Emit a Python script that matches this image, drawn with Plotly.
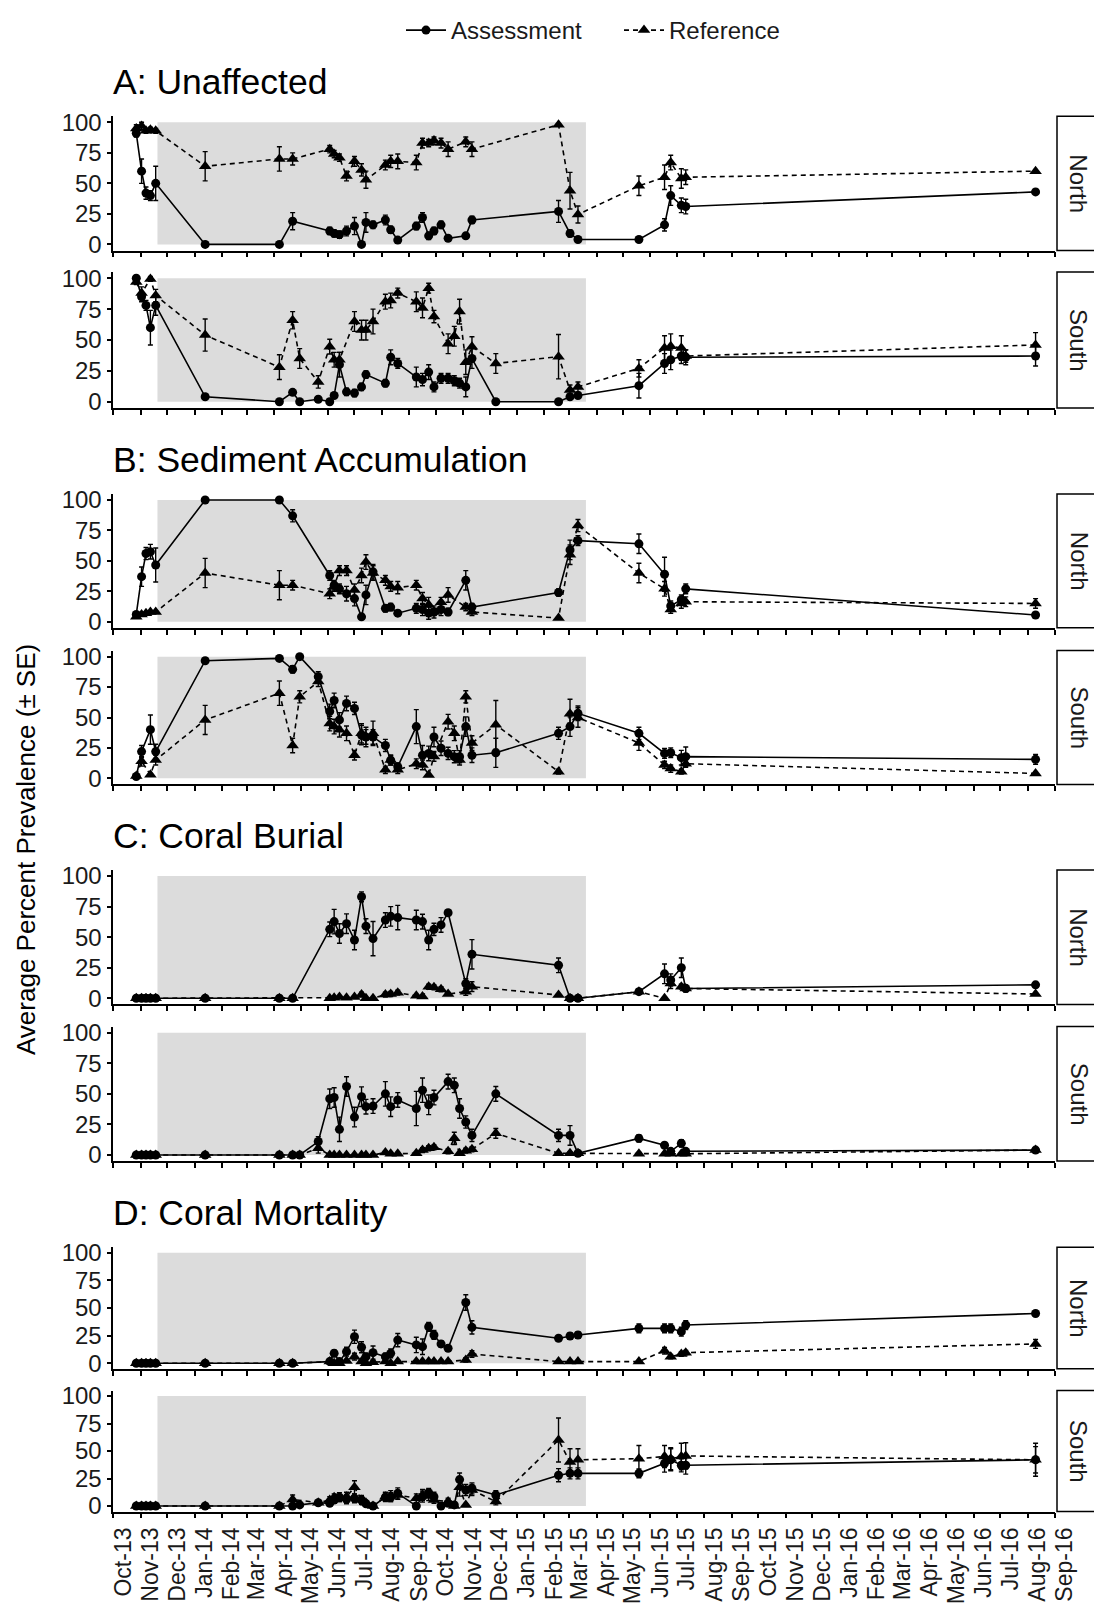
import plotly.graph_objects as go

# ---------------- DATA ----------------
survey_dates = [
    "2013-10-27", "2013-11-02", "2013-11-07", "2013-11-12", "2013-11-18",
    "2014-01-13", "2014-04-07", "2014-04-22", "2014-04-30", "2014-05-21",
    "2014-06-03", "2014-06-08", "2014-06-14", "2014-06-22", "2014-07-01",
    "2014-07-09", "2014-07-14", "2014-07-22", "2014-08-05", "2014-08-11",
    "2014-08-19", "2014-09-09", "2014-09-16", "2014-09-23", "2014-09-29",
    "2014-10-07", "2014-10-15", "2014-10-22", "2014-10-28", "2014-11-04",
    "2014-11-11", "2014-12-08", "2015-02-17", "2015-03-02", "2015-03-11",
    "2015-05-19", "2015-06-17", "2015-06-24", "2015-07-06", "2015-07-11",
    "2016-08-10",
]
N = None

# A: Unaffected
unaff_north_assess = [91, 60, 42, 40, 50, 0, 0, 19, N, N, 11, 9, 8, 11, 15, 0, 18, 16, 20, 12,
                      3.5, 15, 22, 7, 11, 16, 5, N, N, 7, 20, N, 27, 9, 4, 4, 16, 40, 32, 31, 43]
unaff_north_assess_se = [3, 10, 5, 4, 14, 0, 0, 7, N, N, 3, 3, 3, 4, 7, 0, 8, 3, 4, 3,
                         2, 3, 4, 3, 3, 3, 2, N, N, 2, 3, N, 9, 3, 2, 2, 5, 8, 6, 6, 2]
unaff_north_ref = [95, 97, 93, 94, 93, 64, 70, 70, N, N, 78, 74, 71, 56, 68, 61, 53, N, 65, 68,
                   68, 67, 83, 83, 85, 83, 78, N, N, 84, 78, N, 98, 44, 24.5, 48, 55, 67, 54, 55, 60]
unaff_north_ref_se = [3, 3, 2, 2, 2, 12, 10, 5, N, N, 3, 3, 3, 4, 4, 5, 7, N, 4, 5,
                      6, 6, 4, 3, 3, 4, 6, N, N, 4, 6, N, 0, 15, 7, 8, 10, 6, 8, 6, 0]
unaff_south_assess = [100, 85, 78, 60, 78, 4, 0, 7.6, 0, 2, 0, 5, 30, 8, 7, 12, 22, N, 15, 36,
                      31, 20, 18, 24, 12, 19, 19, 17, 15, 12, 35, 0, 0, 4, 5, 13, 31, 34, 37, 36, 37]
unaff_south_assess_se = [2, 4, 4, 14, 8, 1, 0, 2, 0, 1, 0, 2, 10, 3, 3, 3, 3, N, 3, 6,
                         4, 8, 5, 6, 4, 4, 4, 4, 4, 8, 8, 0, 0, 2, 2, 10, 8, 8, 6, 6, 8]
unaff_south_ref = [97, 88, N, 99.5, 86, 54, 28, 66, 35, 16, 44.6, 34, 34, N, 65, 58, 58, 65, 81, 82,
                   88, 81, 76, 92, 69, N, 47, 53, 73, 32, 44.6, 31, 36.5, 9.5, 12, 27, 43.5, 45, 43.5, 37, 46]
unaff_south_ref_se = [2, 5, N, 2, 5, 13, 10, 7, 8, 5, 6, 6, 6, N, 8, 8, 8, 10, 6, 6,
                      4, 8, 8, 4, 5, N, 8, 8, 10, 10, 8, 8, 18, 4, 4, 7, 10, 10, 10, 5, 10]

# B: Sediment Accumulation
sed_north_assess = [6, 37, 56, 57.5, 46.6, 100, 100, 87, N, N, 38, 30, 27, 23, 19, 4, 22, 41, 11, 12,
                    7, 11, 10, 7, 8, 10, 8, N, N, 34, 12, N, 24, 59, 66.6, 64, 39, 13, 18, 27, 5.5]
sed_north_assess_se = [2, 8, 5, 6, 14, 0, 0, 5, N, N, 4, 4, 4, 6, 6, 2, 8, 6, 3, 3,
                       2, 4, 5, 5, 5, 5, 3, N, N, 8, 3, N, 3, 8, 4, 8, 14, 4, 4, 4, 1]
sed_north_ref = [4, 6, 7, 8, 8, 40, 30, 30, N, N, 23, 29, 42, 42, 26, 38, 49, 40, 34, 29,
                 28, 30, 19, 14, 8, 16, 22, N, N, 12, 8, N, 3, 55, 79, 40, 27, 10, 15, 16.4, 15]
sed_north_ref_se = [1, 1, 1, 1, 1, 12, 12, 4, N, N, 4, 4, 4, 4, 5, 6, 6, 6, 4, 4,
                    5, 4, 5, 6, 3, 4, 6, N, N, 3, 3, N, 0, 8, 5, 8, 6, 3, 4, 4, 4]
sed_south_assess = [1.5, 22, N, 40, 22, 96.7, 98.6, 89.6, 100, 83.6, 55, 64, 48, 61.6, 57.5, 35.6, 34, 34, 27, 15,
                    9.6, 42.5, 19, 20.5, 34, 24.7, 20.5, 17.8, 17.8, 42.5, 19, 21, 37, 42.5, 53.4, 37, 20.5, 21, 17, 17.8, 15.6]
sed_south_assess_se = [1, 5, N, 12, 6, 2, 1, 3, 0, 4, 6, 6, 6, 6, 5, 8, 6, 6, 5, 4,
                       3, 14, 8, 6, 8, 6, 5, 5, 5, 8, 6, 12, 5, 8, 6, 5, 4, 4, 6, 8, 4]
sed_south_ref = [2, 14, N, 3, 15, 48, 70, 27, 67, 79.5, 45, 42.5, 40, 37, 19, 37, 34, 37, 7, 15,
                 7, 12, 11, 2.7, 18, N, 46.6, 37, 15, 67, 29, 44, 5.5, 53, 50, 29, 11, 8, 5.5, 12, 4]
sed_south_ref_se = [1, 4, N, 1, 4, 12, 10, 6, 5, 4, 6, 6, 6, 6, 4, 8, 8, 10, 3, 4,
                    3, 4, 4, 0, 4, N, 6, 6, 4, 5, 6, 20, 2, 12, 8, 6, 3, 3, 2, 3, 1]

# C: Coral Burial
burial_north_assess = [0, 0, 0, 0, 0, 0, 0, 0, N, N, 56.4, 62.7, 53, 61, 47.7, 83, 59, 48.8, 64, 67,
                       66, 64, 62.7, 47.7, 56.4, 60, 70, N, N, 12, 36, N, 27, 0, 0, 5.4, 20, 15, 25, 8, 11]
burial_north_assess_se = [0, 0, 0, 0, 0, 0, 0, 0, N, N, 6, 10, 8, 8, 8, 4, 6, 14, 6, 8,
                          10, 8, 6, 8, 5, 6, 2, N, N, 4, 12, N, 6, 0, 0, 2, 8, 5, 8, 3, 1]
burial_north_ref = [0, 0, 0, 0, 0, 0, 0, 0, N, N, 0, 0.5, 1, 0.5, 1, 3, 0, 0, 3, 3.5,
                    4.6, 2, 1.4, 9.5, 9, 7.4, 3.5, N, N, 5.4, 9.5, N, 2.7, 0, 0, 5.4, 0, 12, 9.5, 8, 3.5]
burial_north_ref_se = [0, 0, 0, 0, 0, 0, 0, 0, N, N, 0, 0.5, 1, 0.5, 1, 2, 0, 0, 2, 2,
                       2, 1, 1, 2, 2, 2, 1, N, N, 3, 4, N, 1, 0, 0, 2, 0, 4, 2, 2, 1]
burial_south_assess = [0, 0, 0, 0, 0, 0, 0, 0, 0, 11, 46, 47, 21, 56, 31, 47.7, 39.5, 40, 50, 39.5,
                       45, 38, 53, 41, 47, N, 60, 57, 38, 27, 16, 50, 16, 16, 1.4, 13.6, 8, 3, 9.5, 3, 4]
burial_south_assess_se = [0, 0, 0, 0, 0, 0, 0, 0, 0, 4, 8, 8, 10, 8, 8, 8, 6, 6, 10, 8,
                          6, 14, 10, 8, 6, N, 6, 6, 8, 5, 5, 6, 5, 8, 1, 3, 2, 1, 3, 1, 1]
burial_south_ref = [0, 0, 0, 0, 0, 0, 0, 0, 0, 5.5, 0, 0, 0, 0, 0, 0, 0, 0, 2, 1,
                    1, 1.4, 4, 5.5, 6.3, N, 3, 13.6, 1.4, 3.5, 4.6, 17.7, 1.4, 1.4, 1.4, 1, 1, 1, 1, 1, 4]
burial_south_ref_se = [0, 0, 0, 0, 0, 0, 0, 0, 0, 4, 0, 0, 0, 0, 0, 0, 0, 0, 1, 1,
                       1, 1, 2, 2, 2, N, 2, 5, 1, 2, 2, 4, 1, 1, 1, 1, 1, 1, 1, 1, 1]

# D: Coral Mortality
mort_north_assess = [0, 0, 0, 0, 0, 0, 0, 0, N, N, 1.5, 9, 1.5, 10.5, 24, 14.5, 6, 9.6, 6, 9,
                     21, 16.6, 15, 33, 25.6, 17.5, 13.6, N, N, 55, 32.5, N, 22.6, 24.7, 25.6, 31.6, 31.6, 31.6, 28.6, 34.6, 45]
mort_north_assess_se = [0, 0, 0, 0, 0, 0, 0, 0, N, N, 1, 3, 1, 4, 6, 5, 3, 6, 3, 4,
                        6, 7, 7, 4, 4, 3, 2, N, N, 7, 6, N, 2, 3, 3, 4, 4, 4, 4, 4, 1]
mort_north_ref = [0, 0, 0, 0, 0, 0, 0, 0, N, N, 1.5, 0, 0, 2, 6, 1.5, 0, 1, 1.5, 0,
                  1.5, 1.5, 1.5, 1.5, 1.5, 1.5, 1.5, N, N, 3, 8.4, N, 1.5, 1.5, 1.5, 1.5, 11.4, 6, 8.4, 9.6, 17.5]
mort_north_ref_se = [0, 0, 0, 0, 0, 0, 0, 0, N, N, 1, 0, 0, 1, 3, 1, 0, 1, 1, 0,
                     1, 1, 1, 1, 1, 1, 1, N, N, 2, 3, N, 1, 1, 1, 1, 3, 2, 2, 2, 4]
mort_south_assess = [0, 0, 0, 0, 0, 0, 0, 0, 1, 3, 2.4, 5.5, 8, 6, 7, 5.5, 2, 0, 8, 8,
                     11.5, 0, 8.5, 12, 8.5, 0, 2.4, 1, 24, 14.5, 16, 10, 28, 29.7, 29.7, 29.7, 38.8, 42, 37, 37, 42]
mort_south_assess_se = [0, 0, 0, 0, 0, 0, 0, 0, 1, 2, 2, 3, 4, 4, 4, 4, 2, 0, 4, 4,
                        5, 0, 5, 4, 4, 0, 2, 1, 6, 5, 5, 4, 6, 5, 5, 4, 8, 10, 6, 8, 12]
mort_south_ref = [0, 0, 0, 0, 0, 0, 0, 6, N, 3, 5.5, 8, 7, 8.5, 17, 5.5, 3, 0, 8.5, 9,
                  10, 7, 10, 9, 5.5, N, 4, 0, 17, 1, 14.5, 4, 60, 40, 42, 43, 45, 43, 45, 45.5, 42]
mort_south_ref_se = [0, 0, 0, 0, 0, 0, 0, 4, N, 2, 3, 3, 3, 4, 6, 3, 2, 0, 4, 5,
                     4, 4, 5, 4, 3, N, 3, 0, 8, 1, 5, 3, 20, 12, 10, 12, 10, 10, 12, 12, 15]

group_titles = ["A: Unaffected", "B: Sediment Accumulation", "C: Coral Burial", "D: Coral Mortality"]
region_labels = ["North", "South"]
legend_names = ["Assessment", "Reference"]
y_ticks = [0, 25, 50, 75, 100]
x_start, x_end = "2013-10-01", "2016-09-01"
shade_start, shade_end = "2013-11-20", "2015-03-20"

panel_series = [
    (unaff_north_assess, unaff_north_assess_se, unaff_north_ref, unaff_north_ref_se),
    (unaff_south_assess, unaff_south_assess_se, unaff_south_ref, unaff_south_ref_se),
    (sed_north_assess, sed_north_assess_se, sed_north_ref, sed_north_ref_se),
    (sed_south_assess, sed_south_assess_se, sed_south_ref, sed_south_ref_se),
    (burial_north_assess, burial_north_assess_se, burial_north_ref, burial_north_ref_se),
    (burial_south_assess, burial_south_assess_se, burial_south_ref, burial_south_ref_se),
    (mort_north_assess, mort_north_assess_se, mort_north_ref, mort_north_ref_se),
    (mort_south_assess, mort_south_assess_se, mort_south_ref, mort_south_ref_se),
]

# ---------------- LAYOUT GEOMETRY (page pixels) ----------------
PAGE_OFF = 8                      # default <body> margin of the html page
W, H = 1102 - PAGE_OFF, 1606 - PAGE_OFF
X_LEFT, X_RIGHT = 113.3, 1055.0
STRIP_L, STRIP_R = 1057.0, 1101.0
panel_px = [(116.2, 250.5), (272.1, 407.9), (493.9, 627.8), (650.6, 784.4),
            (869.9, 1004.4), (1026.6, 1161.1), (1247.2, 1368.8), (1390.5, 1511.5)]

FONT = "Liberation Sans, Arial, sans-serif"
TXT = "#1a1a1a"


def px_x(v):
    return (v - PAGE_OFF) / W


def px_y(v):
    return 1 - (v - PAGE_OFF) / H


def clean(se):
    return [0 if s is None else s for s in se]


fig = go.Figure()
shapes = []
annotations = []
layout_axes = {}

for i, (va, sa, vr, sr) in enumerate(panel_series):
    sfx = "" if i == 0 else str(i + 1)
    xa, ya = "x" + sfx, "y" + sfx
    err_style = dict(type="data", visible=True, color="black", thickness=1.4, width=2.5)
    fig.add_trace(go.Scatter(
        x=survey_dates, y=va, error_y=dict(array=clean(sa), **err_style),
        mode="lines+markers", connectgaps=True,
        line=dict(color="black", width=1.6),
        marker=dict(symbol="circle", size=9, color="black"),
        name=legend_names[0], legendgroup="a", showlegend=(i == 0),
        xaxis=xa, yaxis=ya))
    fig.add_trace(go.Scatter(
        x=survey_dates, y=vr, error_y=dict(array=clean(sr), **err_style),
        mode="lines+markers", connectgaps=True,
        line=dict(color="black", width=1.6, dash="5px,4px"),
        marker=dict(symbol="triangle-up", size=11, color="black"),
        name=legend_names[1], legendgroup="r", showlegend=(i == 0),
        xaxis=xa, yaxis=ya))

    top, bot = panel_px[i]
    layout_axes["xaxis" + sfx] = dict(
        domain=[px_x(X_LEFT), px_x(X_RIGHT)], range=[x_start, x_end], type="date",
        anchor=ya, showline=True, linecolor="black", linewidth=1.6,
        ticks="outside", ticklen=5, tickwidth=1.5, tickcolor="black",
        tick0=x_start, dtick="M1", tickformat="%b-%y", tickangle=-90,
        showticklabels=(i == len(panel_series) - 1), ticklabelshift=10,
        tickfont=dict(family=FONT, size=23, color=TXT),
        showgrid=False, zeroline=False, automargin=False,
        **({} if i == 0 else {"matches": "x"}))
    layout_axes["yaxis" + sfx] = dict(
        domain=[px_y(bot), px_y(top)], range=[-5, 105], anchor=xa,
        tickvals=y_ticks, showline=True, linecolor="black", linewidth=1.6,
        ticks="outside", ticklen=5, tickwidth=1.5, tickcolor="black",
        tickfont=dict(family=FONT, size=24, color=TXT),
        showgrid=False, zeroline=False, automargin=False)

    # shaded dredging period
    shapes.append(dict(type="rect", xref=xa, yref=ya, x0=shade_start, x1=shade_end,
                       y0=0, y1=100, fillcolor="#DCDCDC", line=dict(width=0), layer="below"))
    # strip box
    shapes.append(dict(type="rect", xref="paper", yref="paper",
                       x0=px_x(STRIP_L), x1=px_x(STRIP_R), y0=px_y(bot), y1=px_y(top),
                       fillcolor="white", line=dict(color="black", width=1.5)))
    annotations.append(dict(xref="paper", yref="paper", x=px_x((STRIP_L + STRIP_R) / 2),
                            y=px_y((top + bot) / 2), text=region_labels[i % 2], textangle=90,
                            showarrow=False, xanchor="center", yanchor="middle",
                            font=dict(family=FONT, size=24, color=TXT)))
    if i % 2 == 0:
        annotations.append(dict(xref="paper", yref="paper", x=px_x(X_LEFT - 2),
                                y=px_y(top - 34), text=group_titles[i // 2], showarrow=False,
                                xanchor="left", yanchor="middle",
                                font=dict(family=FONT, size=35.5, color="black")))

annotations.append(dict(xref="paper", yref="paper", x=px_x(26), y=px_y(850),
                        text="Average Percent Prevalence (± SE)", textangle=-90,
                        showarrow=False, xanchor="center", yanchor="middle",
                        font=dict(family=FONT, size=26, color="black")))

fig.update_layout(
    width=W, height=H, autosize=False,
    margin=dict(l=0, r=0, t=0, b=0, pad=0, autoexpand=False),
    paper_bgcolor="white", plot_bgcolor="white",
    showlegend=True,
    legend=dict(orientation="h", xref="container", yref="container",
                x=px_x(401), xanchor="left", y=1.0, yanchor="top",
                font=dict(family=FONT, size=24, color=TXT), bgcolor="rgba(0,0,0,0)",
                entrywidthmode="pixels", entrywidth=163, itemwidth=40, tracegroupgap=0),
    shapes=shapes, annotations=annotations,
    **layout_axes)

fig.write_html("out.html")
